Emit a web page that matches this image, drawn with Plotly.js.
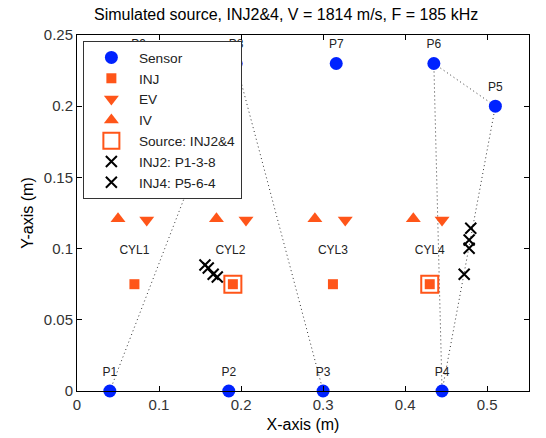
<!DOCTYPE html>
<html>
<head>
<meta charset="utf-8">
<script src="https://cdn.plot.ly/plotly-3.0.1.min.js"></script>
<style>html,body{margin:0;padding:0;background:#fff;}#chart{width:546px;height:438px;}</style>
</head>
<body>
<div id="chart"></div>
<script>
// ---- data ----
const sensorNames = ['P1','P2','P3','P4','P5','P6','P7','P8','P9'];
const sensorX = [0.040, 0.185, 0.300, 0.445, 0.510, 0.435, 0.316, 0.194, 0.075];
const sensorY = [0, 0, 0, 0, 0.200, 0.230, 0.230, 0.230, 0.230];

const injX = [0.070, 0.190, 0.312, 0.430];
const injY = [0.075, 0.075, 0.075, 0.075];

const evX = [0.085, 0.206, 0.327, 0.445];
const evY = [0.120, 0.120, 0.120, 0.120];

const ivX = [0.050, 0.170, 0.290, 0.410];
const ivY = [0.121, 0.121, 0.121, 0.121];

const cylLabels = ['CYL1', 'CYL2', 'CYL3', 'CYL4'];
const cylX = [0.070, 0.187, 0.312, 0.430];
const cylY = [0.098, 0.098, 0.098, 0.098];

const sourceX = [0.190, 0.430];
const sourceY = [0.075, 0.075];

const inj2X = [0.156, 0.160, 0.166, 0.171];
const inj2Y = [0.0885, 0.0864, 0.0820, 0.0800];

const inj4X = [0.480, 0.478, 0.478, 0.472];
const inj4Y = [0.1143, 0.1060, 0.1003, 0.0820];

// sensor pairs (by name) for the dotted localisation lines
const inj2Pairs = [['P1','P8'], ['P3','P8']];
const inj4Pairs = [['P6','P4'], ['P6','P5'], ['P5','P4']];

const xTicks = [0, 0.1, 0.2, 0.3, 0.4, 0.5];
const xTickLabels = ['0', '0.1', '0.2', '0.3', '0.4', '0.5'];
const yTicks = [0, 0.05, 0.1, 0.15, 0.2, 0.25];
const yTickLabels = ['0', '0.05', '0.1', '0.15', '0.2', '0.25'];

// ---- build ----
const ORANGE = '#ff5519';
const BLUE = '#0022ff';
const FONT = 'Liberation Sans, Arial, sans-serif';

function pairLines(pairs) {
  const xs = [], ys = [];
  pairs.forEach(([a, b]) => {
    const i = sensorNames.indexOf(a), j = sensorNames.indexOf(b);
    xs.push(sensorX[i], sensorX[j], null);
    ys.push(sensorY[i], sensorY[j], null);
  });
  return {xs, ys};
}
const l2 = pairLines(inj2Pairs);
const l4 = pairLines(inj4Pairs);

const dotLine = {color: '#333', width: 1, dash: '1px,3px'};

const traces = [
  {x: l2.xs, y: l2.ys, mode: 'lines', line: dotLine, showlegend: false, hoverinfo: 'skip'},
  {x: l4.xs, y: l4.ys, mode: 'lines', line: dotLine, showlegend: false, hoverinfo: 'skip'},
  {x: sensorX, y: sensorY, mode: 'markers', name: 'Sensor', legendgroup: 'a',
   marker: {symbol: 'circle', size: 13, color: BLUE}, cliponaxis: false},
  {x: injX, y: injY, mode: 'markers', name: 'INJ', legendgroup: 'b',
   marker: {symbol: 'square', size: 10, color: ORANGE}},
  {x: evX, y: evY, mode: 'markers', name: 'EV', legendgroup: 'c',
   marker: {symbol: 'triangle-down', size: 13, color: ORANGE}},
  {x: ivX, y: ivY, mode: 'markers', name: 'IV', legendgroup: 'd',
   marker: {symbol: 'triangle-up', size: 13, color: ORANGE}},
  {x: sourceX, y: sourceY, mode: 'markers', name: 'Source: INJ2&4', legendgroup: 'e',
   marker: {symbol: 'square-open', size: 17, color: ORANGE, line: {width: 2, color: ORANGE}}},
  {x: inj2X, y: inj2Y, mode: 'markers', name: 'INJ2: P1-3-8', legendgroup: 'f',
   marker: {symbol: 'x-thin-open', size: 11, color: '#000', line: {width: 2, color: '#000'}}},
  {x: inj4X, y: inj4Y, mode: 'markers', name: 'INJ4: P5-6-4', legendgroup: 'g',
   marker: {symbol: 'x-thin-open', size: 11, color: '#000', line: {width: 2, color: '#000'}}},
  {x: sensorX, y: sensorY, mode: 'markers+text', text: sensorNames, textposition: 'top center',
   marker: {size: 18, color: 'rgba(0,0,0,0)'},
   textfont: {family: FONT, size: 12, color: '#222'}, showlegend: false, hoverinfo: 'skip', cliponaxis: false},
  {x: cylX, y: cylY, mode: 'text', text: cylLabels, textposition: 'middle center',
   textfont: {family: FONT, size: 12, color: '#222'}, showlegend: false, hoverinfo: 'skip'}
];

const axisCommon = {
  showgrid: false, zeroline: false, showline: true, mirror: 'ticks',
  linecolor: '#000', linewidth: 1, ticks: 'inside', ticklen: 5, tickcolor: '#000',
  tickfont: {family: FONT, size: 15, color: '#333'}
};

const layout = {
  width: 546, height: 438,
  margin: {l: 77, r: 17, t: 35, b: 47},
  paper_bgcolor: '#fff', plot_bgcolor: '#fff',
  font: {family: FONT, color: '#000'},
  title: {text: 'Simulated source, INJ2&4, V = 1814 m/s, F = 185 kHz',
          font: {family: FONT, size: 16, color: '#000'},
          x: 0.524, xanchor: 'center', y: 0.968, yanchor: 'middle'},
  xaxis: Object.assign({}, axisCommon, {
    range: [0, 0.551], tickvals: xTicks, ticktext: xTickLabels,
    title: {text: 'X-axis (m)', font: {family: FONT, size: 16, color: '#000'}, standoff: 6}
  }),
  yaxis: Object.assign({}, axisCommon, {
    range: [0, 0.25], tickvals: yTicks, ticktext: yTickLabels,
    title: {text: 'Y-axis (m)', font: {family: FONT, size: 16, color: '#000'}, standoff: 6}
  }),
  legend: {
    x: 0.013, y: 0.983, xanchor: 'left', yanchor: 'top',
    bgcolor: '#fff', bordercolor: '#333', borderwidth: 1,
    font: {family: FONT, size: 13.7, color: '#222'},
    traceorder: 'grouped', tracegroupgap: 0, itemwidth: 45
  },
  showlegend: true
};

Plotly.newPlot('chart', traces, layout, {displayModeBar: false, staticPlot: true});
</script>
</body>
</html>
